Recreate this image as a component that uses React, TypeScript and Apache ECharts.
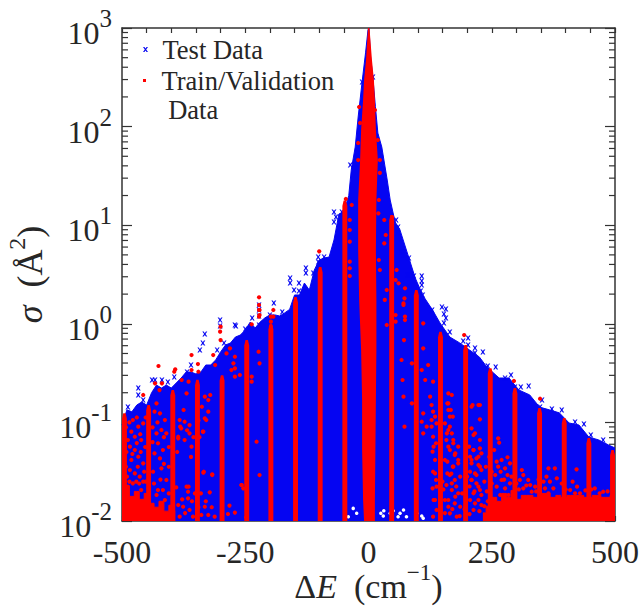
import React, { useEffect, useRef } from "react";
import * as echarts from "echarts";

const xTickLabels = [-500, -250, 0, 250, 500];
const minorTickValues = [
  0.02, 0.03, 0.04, 0.05, 0.06, 0.07, 0.08, 0.09,
  0.2, 0.3, 0.4, 0.5, 0.6, 0.7, 0.8, 0.9,
  2, 3, 4, 5, 6, 7, 8, 9,
  20, 30, 40, 50, 60, 70, 80, 90,
  200, 300, 400, 500, 600, 700, 800, 900,
];

// Upper edge of the dense blue cloud: delta E and sigma
const testEdgeX = [
  -500, -490, -480, -470, -460, -450, -440, -430, -420, -410, -400, -390, -380, -370, -360, -350, -340, -330, -320,
  -310, -300, -290, -280, -270, -260, -250, -240, -230, -220, -210, -200, -190, -180, -170, -160, -150, -140, -130,
  -120, -110, -100, -90, -80, -70, -60, -50, -40, -35, -27, -21, -13, -6, -1, 1, 4, 9, 14, 19, 27, 38, 44, 54, 64, 80,
  95, 110, 130, 145, 165, 185, 205, 225, 240, 265, 285, 305, 327, 347, 367, 387, 407, 427, 447, 467, 487, 500,
];
const testEdgeSigma = [
  0.094, 0.134, 0.128, 0.15, 0.161, 0.15, 0.2, 0.239, 0.223, 0.239, 0.223, 0.251, 0.282, 0.324, 0.324, 0.31, 0.324,
  0.382, 0.382, 0.43, 0.518, 0.61, 0.638, 0.734, 0.769, 0.865, 1.04, 0.906, 1.04, 1.15, 1.23, 1.23, 1.2, 1.29, 1.4,
  1.96, 1.96, 2.59, 2.2, 3.5, 4.44, 4.65, 4.75, 7.08, 13, 13.6, 20, 36.3, 62, 125, 283, 560, 955, 1000, 520, 311, 160,
  86, 62, 28.7, 18, 10.8, 8.9, 5, 2.9, 1.95, 1.38, 1.02, 0.734, 0.64, 0.542, 0.46, 0.365, 0.282, 0.282, 0.213, 0.19,
  0.143, 0.134, 0.125, 0.0986, 0.094, 0.071, 0.0664, 0.059, 0.055,
];

// Separate blue crosses: [delta E, log10 sigma]
const testOutliers = [
  [-488, -0.844], [-467, -0.651], [-467, -0.722], [-457, -0.773], [-439, -0.57], [-433, -0.57], [-419, -0.57],
  [-407, -0.59], [-394, -0.54], [-368, -0.489], [-360, -0.418], [-336, -0.195], [-332, -0.104], [-342, -0.266],
  [-307, -0.266], [-301, 0.039], [-301, -0.022], [-293, -0.195], [-271, -0.012], [-269, -0.022], [-250, -0.053],
  [-236, 0.059], [-222, 0.191], [-222, 0.14], [-222, 0.079], [-222, -0.012], [-200, 0.089], [-192, 0.211],
  [-175, 0.12], [-159, 0.464], [-159, 0.414], [-151, 0.343], [-141, 0.414], [-141, 0.333], [-127, 0.566],
  [-127, 0.515], [-112, 0.515], [-102, 0.677], [-102, 0.627], [-90, 0.677], [-70, 1.134], [-66, 1.083], [-70, 1.033],
  [-54, 1.134], [-37, 1.611], [-13, 2.452], [9, 2.503], [56, 1.053], [60, 0.982], [60, 0.921], [68, 0.728],
  [72, 0.698], [82, 0.667], [80, 0.495], [92, 0.485], [108, 0.485], [108, 0.434], [108, 0.394], [106, 0.333],
  [110, 0.292], [129, 0.14], [149, 0.17], [157, 0.15], [153, 0.099], [157, 0.059], [153, 0.008], [165, -0.083],
  [202, -0.144], [192, -0.174], [202, -0.215], [216, -0.245], [216, -0.296], [232, -0.286], [242, -0.428],
  [258, -0.438], [277, -0.55], [289, -0.519], [297, -0.64], [309, -0.64], [325, -0.63], [352, -0.773], [348, -0.844],
  [372, -0.864], [392, -0.874], [419, -0.996], [437, -1.016], [451, -1.128], [476, -1.178],
];

// Small uncovered spots low in the cloud: [delta E, log10 sigma]
const testGaps = [
  [25, -1.922], [31, -1.895], [44, -1.922], [50, -1.895], [30, -1.949], [64, -1.922], [71, -1.888], [60, -1.956],
  [77, -1.956], [98, -1.922], [108, -1.949], [111, -1.973], [-41, -1.956], [-24, -1.922], [-31, -1.872],
];

// Red columns: centre delta E and highest sigma
const trainColumnX = [
  -495, -446, -397, -347, -297, -247, -198, -148, -98, -48, 47, 97, 146, 197, 247, 297, 347, 397, 447, 495,
];
const trainColumnSigma = [
  0.124, 0.15, 0.213, 0.27, 0.3, 0.685, 1.0, 1.87, 3.77, 17.8, 12.7, 2.2, 0.83, 0.61, 0.355, 0.223, 0.14, 0.111,
  0.0695, 0.0525,
];

// Central red core: log10 sigma levels with left and right edge in delta E
const coreLevels = [3, 2.676, 2.47, 2.27, 1.965, 1.66, 1.255, 0.749, 0.242, -0.266, -0.773, -1.28, -1.787, -2];
const coreLeft = [-1, -5, -9, -11, -15, -17, -21, -21, -19, -15, -13, -13, -11, -9];
const coreRight = [2, 7, 11, 13, 15, 19, 16, 15, 16, 16, 15, 14, 13, 13];

// Dense red floors: [delta E, log10 sigma]
const leftFloor = [
  [-500, -1.72], [-490, -1.66], [-480, -1.75], [-470, -1.7], [-460, -1.78], [-450, -1.72], [-440, -1.82],
  [-430, -1.86], [-420, -1.8], [-410, -1.9], [-400, -1.84], [-392, -1.9],
];
const rightFloor = [
  [232, -1.918], [245, -1.85], [255, -1.76], [265, -1.8], [275, -1.72], [285, -1.76], [293, -1.69], [305, -1.78],
  [315, -1.74], [327, -1.74], [340, -1.76], [350, -1.72], [362, -1.72], [375, -1.76], [385, -1.74], [395, -1.76],
  [410, -1.74], [428, -1.74], [445, -1.76], [463, -1.74], [480, -1.76], [500, -1.74],
];

// Separate red points: [delta E, log10 sigma]
const trainPoints = [
  [-481, -1.094], [-478, -0.976], [-488, -1.179], [-474, -1.145], [-467, -1.043], [-484, -1.246], [-461, -1.179],
  [-457, -1.01], [-474, -1.28], [-467, -1.348], [-481, -1.381], [-484, -1.483], [-457, -1.415], [-464, -1.55],
  [-478, -1.618], [-488, -1.652], [-457, -1.601], [-474, -1.517], [-461, -1.686],
  [-434, -0.891], [-423, -0.908], [-413, -0.976], [-430, -1.111], [-420, -1.077], [-410, -1.111], [-427, -1.212],
  [-417, -1.28], [-434, -1.314], [-423, -1.365], [-437, -1.5], [-420, -1.466], [-410, -1.584], [-427, -1.686],
  [-417, -1.686], [-430, -1.736], [-413, -1.787],
  [-383, -0.976], [-373, -0.993], [-363, -1.027], [-386, -1.162], [-373, -1.179], [-363, -1.111], [-359, -1.246],
  [-390, -1.659], [-369, -1.652], [-366, -1.703], [-376, -1.855], [-366, -1.77], [-386, -1.838], [-383, -1.956],
  [-363, -1.888], [-356, -1.956],
  [-332, -0.959], [-336, -1.094], [-329, -0.976], [-325, -0.891], [-334, -1.5], [-317, -1.534], [-322, -1.709],
  [-332, -1.855], [-339, -1.939], [-325, -1.939], [-312, -1.956],
  [-282, -1.844], [-271, -1.915], [-285, -1.929], [-258, -1.635], [-254, -1.669], [-248, -1.963],
  [-426, -0.428], [-392, -0.462], [-394, -0.486], [-359, -0.317], [-346, -0.408], [-315, -0.317], [-301, -0.08],
  [-300, -0.165], [-433, -0.604], [-419, -0.604], [-457, -0.722], [-424, -0.672], [-430, -0.807], [-379, -0.57],
  [-369, -0.705], [-375, -0.874], [-382, -1.043], [-386, -1.145], [-332, -0.739], [-325, -0.773], [-338, -0.841],
  [-335, -1.094], [-365, -0.587], [-359, -0.469], [-345, -0.486], [-311, -0.418], [-321, -0.722], [-278, -0.469],
  [-274, -0.401], [-271, -0.452], [-271, -0.536], [-261, -0.519], [-288, -0.3], [-281, -0.249], [-271, -0.334],
  [-237, -0.536], [-237, -0.587], [-223, -0.283], [-221, -0.401], [-221, 0.089], [-221, 0.14], [-227, -1.196],
  [-221, -1.534], [-257, -1.635], [-335, -1.51], [-317, -1.527], [-365, -1.652], [-193, 0.072], [-193, 0.14],
  [-222, 0.269], [-222, 0.191], [-222, 0.14], [-222, 0.073], [-237, -0.005], [-198, 0.073], [-198, 0.022],
  [-198, -0.029], [-38, 1.053], [-38, 0.951], [-38, 0.833], [-38, 0.63], [-38, 0.563], [-38, 0.485], [-34, 1.205],
  [-46, 1.266], [-100, 0.735], [-300, -0.029], [-19, 2.199], [-21, 1.661], [-21, 1.834], [-17, 2.037], [-13, 1.59],
  [19, 1.864], [13, 2.168], [23, 1.661], [23, 1.53], [48, 1.083],
  [21, 1.256], [20, 1.12], [32, 1.053], [35, 0.901], [32, 0.816], [21, 0.647], [23, 0.546], [57, 0.546], [55, 0.444],
  [61, 0.411], [37, 0.343], [33, 0.242], [74, 0.36], [73, 0.258], [71, 0.191], [74, 0.073], [55, 0.089], [55, 0.022],
  [37, -0.012], [111, 0.005],
  [71, 0.207], [74, 0.038], [72, -0.165], [67, -0.367], [69, -0.57], [71, -0.739], [73, -1.043], [88, -0.807],
  [88, -0.401], [111, -0.249], [121, -0.418], [108, -0.469], [115, -0.57], [131, -0.587], [125, -0.739], [111, -0.908],
  [128, -0.976], [108, -0.993], [128, -0.824], [118, -1.043], [111, -1.111], [132, -1.246], [135, -1.517], [138, -1.652],
  [132, -1.787], [162, -0.705], [169, -0.722], [162, -0.807], [162, -0.874], [171, -0.942], [165, -1.043], [159, -1.111],
  [172, -1.179], [162, -1.246], [176, -1.314], [182, -1.246], [155, -1.381], [160, -1.517], [172, -1.449], [182, -1.381],
  [169, -1.618], [155, -1.787], [176, -1.753], [162, -1.855], [209, -0.841], [223, -0.824], [216, -1.111], [226, -1.179],
  [213, -1.28], [223, -1.348], [209, -1.381], [226, -1.449], [216, -1.517], [209, -1.584], [223, -1.652], [229, -1.736],
  [216, -1.821],
  [131, -0.891], [135, -0.942], [128, -1.043], [138, -1.01], [131, -1.145], [137, -1.212], [130, -1.297], [135, -1.381],
  [131, -1.5], [137, -1.584], [130, -1.669], [135, -1.787], [138, -1.888], [131, -1.956],
  [160, -0.807], [167, -0.874], [165, -0.942], [155, -1.01], [162, -1.077], [169, -1.111], [158, -1.179], [172, -1.212],
  [165, -1.28], [175, -1.331], [160, -1.398], [171, -1.449], [182, -1.415], [165, -1.534], [175, -1.584], [186, -1.55],
  [158, -1.635], [169, -1.686], [182, -1.719], [162, -1.787], [175, -1.821], [186, -1.855], [165, -1.922], [179, -1.956],
  [211, -0.824], [226, -0.824], [226, -0.969], [209, -1.06], [213, -1.128], [204, -1.246], [213, -1.28], [226, -1.263],
  [206, -1.348], [219, -1.365], [229, -1.314], [209, -1.415], [223, -1.432], [206, -1.5], [219, -1.534], [229, -1.483],
  [209, -1.584], [219, -1.618], [226, -1.686], [213, -1.719], [206, -1.787], [223, -1.787], [229, -1.838], [213, -1.888],
  [263, -1.162], [265, -1.206], [255, -1.28], [270, -1.381], [260, -1.398], [282, -1.354], [263, -1.449], [277, -1.466],
  [287, -1.415], [257, -1.534], [270, -1.584], [282, -1.534], [260, -1.652], [277, -1.669], [287, -1.618], [267, -1.736],
  [284, -1.736], [311, -1.483], [314, -1.534], [307, -1.584], [324, -1.584], [328, -1.635], [314, -1.669], [331, -1.703],
  [338, -1.652], [365, -1.466], [378, -1.466], [361, -1.55], [368, -1.601], [382, -1.567], [358, -1.669], [375, -1.669],
  [365, -1.719], [422, -1.476], [414, -1.601], [423, -1.652], [409, -1.686], [429, -1.719], [419, -1.719], [459, -1.669],
  [469, -1.719], [476, -1.703], [194, -0.114], [295, -0.58], [348, -0.76],
  [-492, -1.05], [-485, -1.0], [-470, -0.95], [-463, -1.12], [-452, -0.95], [-491, -1.3], [-470, -1.21], [-462, -1.3],
  [-453, -1.25], [-492, -1.45], [-479, -1.32], [-468, -1.45], [-455, -1.5], [-490, -1.55], [-471, -1.6], [-452, -1.6],
  [-485, -1.6], [-465, -1.62], [-438, -1.05], [-428, -1.0], [-415, -1.15], [-405, -1.25], [-438, -1.2], [-415, -1.42],
  [-405, -1.45], [-435, -1.62], [-422, -1.58], [-405, -1.72], [-380, -1.06], [-368, -1.08], [-355, -1.15], [-388, -1.3],
  [-360, -1.35], [-345, -0.98], [-343, -1.15], [-378, -1.78], [-358, -1.8], [-345, -1.86], [-372, -1.92], [-352, -1.72],
  [-340, -1.72], [-330, -1.8], [-318, -1.86],
  [235, -1.6], [240, -1.7], [250, -1.62], [238, -1.45], [245, -1.35], [250, -1.5], [242, -1.8], [225, -1.9], [235, -1.85],
  [205, -1.65], [215, -1.7], [200, -1.55], [190, -1.72], [195, -1.88], [205, -1.93], [185, -1.95], [150, -1.6],
  [155, -1.92], [170, -1.88], [178, -1.65], [168, -1.52], [152, -1.68], [145, -1.9], [268, -1.5], [275, -1.58],
  [290, -1.55], [300, -1.62], [305, -1.68], [320, -1.64], [340, -1.7], [345, -1.58], [355, -1.6], [392, -1.62],
  [400, -1.68], [440, -1.69], [452, -1.68], [485, -1.7],
];

const BLUE = "#0505f2";
const RED = "#ff0000";
const INK = "#262626";
const FONT = "Liberation Serif";
const CROSS = "path://M0 0L1.4 0L2.5 1.6L3.6 0L5 0L3.2 2.5L5 5L3.6 5L2.5 3.4L1.4 5L0 5L1.8 2.5Z";
const TRAIN_ICON = "path://M0 0L0.01 0Z M0 13L3 13L3 16L0 16Z M0 58L0.01 58Z";

const toSigma = (d: number) => Math.pow(10, d);
const decadePairs = (list: number[][]) => list.map(([x, d]) => [x, toSigma(d)]);
const SUP: Record<string, string> = { "0.01": "-2", "0.1": "-1", "1": "0", "10": "1", "100": "2", "1000": "3" };

const App = () => {
  const ref = useRef<HTMLDivElement>(null);
  useEffect(() => {
    if (!ref.current) return;
    const chart = echarts.init(ref.current, undefined, { renderer: "svg" });
    const polygonItem = (pts: number[][], api: any, params: any, color: string) => ({
      type: "polygon",
      shape: { points: pts.map((p) => api.coord(p)) },
      style: { fill: color },
      clipPath: {
        type: "rect",
        shape: {
          x: params.coordSys.x,
          y: params.coordSys.y,
          width: params.coordSys.width,
          height: params.coordSys.height,
        },
      },
    });
    chart.setOption({
      animation: false,
      backgroundColor: "#ffffff",
      textStyle: { fontFamily: FONT },
      grid: { left: 122, right: 27, top: 28, bottom: 85, containLabel: false, outerBoundsMode: "none" },
      legend: [
        {
          data: [{ name: "Test Data", icon: CROSS }],
          left: 143,
          top: 36,
          padding: 0,
          orient: "vertical",
          selectedMode: false,
          itemWidth: 24,
          itemHeight: 5,
          textStyle: { fontFamily: FONT, fontSize: 26.5, color: INK },
        },
        {
          data: [{ name: "Train/Validation Data", icon: TRAIN_ICON }],
          left: 143,
          top: 66,
          padding: 0,
          orient: "vertical",
          selectedMode: false,
          itemWidth: 24,
          itemHeight: 58,
          formatter: () => "Train/Validation\n Data",
          textStyle: { fontFamily: FONT, fontSize: 26.5, lineHeight: 29, color: INK },
        },
      ],
      xAxis: [
        {
          type: "value",
          min: -500,
          max: 500,
          interval: 50,
          position: "bottom",
          splitLine: { show: false },
          axisLine: { onZero: false, lineStyle: { color: "#333", width: 1.5 } },
          axisTick: { inside: true, length: 5, lineStyle: { color: "#333", width: 1.2 } },
          axisLabel: {
            margin: 15,
            fontFamily: FONT,
            fontSize: 32,
            color: INK,
            formatter: (v: number) => (xTickLabels.includes(v) ? String(v) : ""),
          },
          name: "{i|Δ}{e|E}{r|\u00a0\u00a0(cm}{s|−1}{r|)}",
          nameLocation: "middle",
          nameGap: 40,
          nameMoveOverlap: false,
          nameTextStyle: {
            rich: {
              i: { fontFamily: FONT, fontSize: 34, color: INK, lineHeight: 50 },
              e: { fontFamily: FONT, fontSize: 34, fontStyle: "italic", color: INK, lineHeight: 50 },
              r: { fontFamily: FONT, fontSize: 34, color: INK, lineHeight: 50 },
              s: { fontFamily: FONT, fontSize: 23, color: INK, verticalAlign: "top", lineHeight: 24 },
            },
          },
        },
        {
          type: "value",
          min: -500,
          max: 500,
          interval: 50,
          position: "top",
          splitLine: { show: false },
          axisLine: { onZero: false, lineStyle: { color: "#333", width: 1.5 } },
          axisTick: { inside: true, length: 5, lineStyle: { color: "#333", width: 1.2 } },
          axisLabel: { show: false },
        },
      ],
      yAxis: [
        {
          type: "log",
          logBase: 10,
          min: 0.01,
          max: 1000,
          position: "left",
          splitLine: { show: false },
          axisLine: { onZero: false, lineStyle: { color: "#333", width: 1.5 } },
          axisTick: { inside: true, length: 10, lineStyle: { color: "#333", width: 1.2 } },
          axisLabel: {
            margin: 10,
            padding: [10, 0, 0, 0],
            formatter: (v: number) => `{b|10}{s|${SUP[String(v)] ?? ""}}`,
            rich: {
              b: { fontFamily: FONT, fontSize: 32, color: INK, lineHeight: 54 },
              s: { fontFamily: FONT, fontSize: 25, color: INK, verticalAlign: "top", lineHeight: 24 },
            },
          },
          name: "{i|σ}{r|\u00a0\u00a0(Å}{s|2}{r|)}",
          nameLocation: "middle",
          nameGap: 64,
          nameRotate: 90,
          nameTextStyle: {
            rich: {
              i: { fontFamily: FONT, fontSize: 36, fontStyle: "italic", color: INK, lineHeight: 50 },
              r: { fontFamily: FONT, fontSize: 36, color: INK, lineHeight: 50 },
              s: { fontFamily: FONT, fontSize: 24, color: INK, verticalAlign: "top", lineHeight: 24 },
            },
          },
        },
        {
          type: "log",
          logBase: 10,
          min: 0.01,
          max: 1000,
          position: "right",
          splitLine: { show: false },
          axisLine: { onZero: false, lineStyle: { color: "#333", width: 1.5 } },
          axisTick: { inside: true, length: 10, lineStyle: { color: "#333", width: 1.2 } },
          axisLabel: { show: false },
        },
      ],
      series: [
        {
          type: "custom",
          z: 1,
          silent: true,
          data: minorTickValues.map((v) => [v]),
          encode: { y: 0 },
          renderItem: (params: any, api: any) => {
            const v = api.value(0);
            const left = api.coord([-500, v]);
            const right = api.coord([500, v]);
            const stroke = { stroke: "#333", lineWidth: 1.2 };
            return {
              type: "group",
              children: [
                { type: "line", shape: { x1: left[0], y1: left[1], x2: left[0] + 6, y2: left[1] }, style: stroke },
                { type: "line", shape: { x1: right[0], y1: right[1], x2: right[0] - 6, y2: right[1] }, style: stroke },
              ],
            };
          },
        },
        {
          type: "line",
          name: "test-cloud",
          z: 2,
          showSymbol: false,
          symbol: "none",
          data: testEdgeX.map((x, i) => [x, testEdgeSigma[i]]),
          lineStyle: { color: BLUE, width: 1 },
          areaStyle: { color: BLUE, opacity: 1, origin: "start" },
        },
        {
          type: "scatter",
          name: "Test Data",
          z: 3,
          symbol: CROSS,
          symbolSize: 5,
          itemStyle: { color: BLUE, opacity: 1 },
          data: decadePairs(testOutliers),
        },
        {
          type: "scatter",
          name: "test-gaps",
          z: 3,
          symbol: "circle",
          symbolSize: 3.5,
          itemStyle: { color: "#ffffff", opacity: 1 },
          data: decadePairs(testGaps),
        },
        {
          type: "line",
          name: "train-floor-left",
          z: 4,
          step: "middle",
          symbol: "none",
          showSymbol: false,
          data: decadePairs(leftFloor),
          lineStyle: { color: RED, width: 1 },
          areaStyle: { color: RED, opacity: 1, origin: "start" },
        },
        {
          type: "line",
          name: "train-floor-right",
          z: 4,
          step: "middle",
          symbol: "none",
          showSymbol: false,
          data: decadePairs(rightFloor),
          lineStyle: { color: RED, width: 1 },
          areaStyle: { color: RED, opacity: 1, origin: "start" },
        },
        {
          type: "custom",
          name: "train-columns",
          z: 5,
          data: trainColumnX.map((x, i) => [x, trainColumnSigma[i]]),
          encode: { x: 0, y: 1 },
          renderItem: (params: any, api: any) => {
            const x = api.value(0);
            const top = api.value(1);
            return polygonItem(
              [
                [x - 5, 0.01],
                [x - 5, top * 0.88],
                [x - 2.5, top],
                [x + 2.5, top],
                [x + 5, top * 0.88],
                [x + 5, 0.01],
              ],
              api,
              params,
              RED
            );
          },
        },
        {
          type: "custom",
          name: "train-core",
          z: 5,
          data: [[0, 1]],
          encode: { x: 0, y: 1 },
          renderItem: (params: any, api: any) => {
            const leftSide = coreLevels.map((d, i) => [coreLeft[i], toSigma(d)]);
            const rightSide = coreLevels.map((d, i) => [coreRight[i], toSigma(d)]).reverse();
            return polygonItem([...leftSide, ...rightSide], api, params, RED);
          },
        },
        {
          type: "scatter",
          name: "Train/Validation Data",
          z: 6,
          symbol: "circle",
          symbolSize: 4.2,
          itemStyle: { color: RED, opacity: 1 },
          data: decadePairs(trainPoints),
        },
      ],
    });
    return () => chart.dispose();
  }, []);
  return (
    <div
      ref={ref}
      style={{ position: "absolute", left: 0, top: 0, width: 642, height: 606, background: "#fff" }}
    />
  );
};

export default App;
